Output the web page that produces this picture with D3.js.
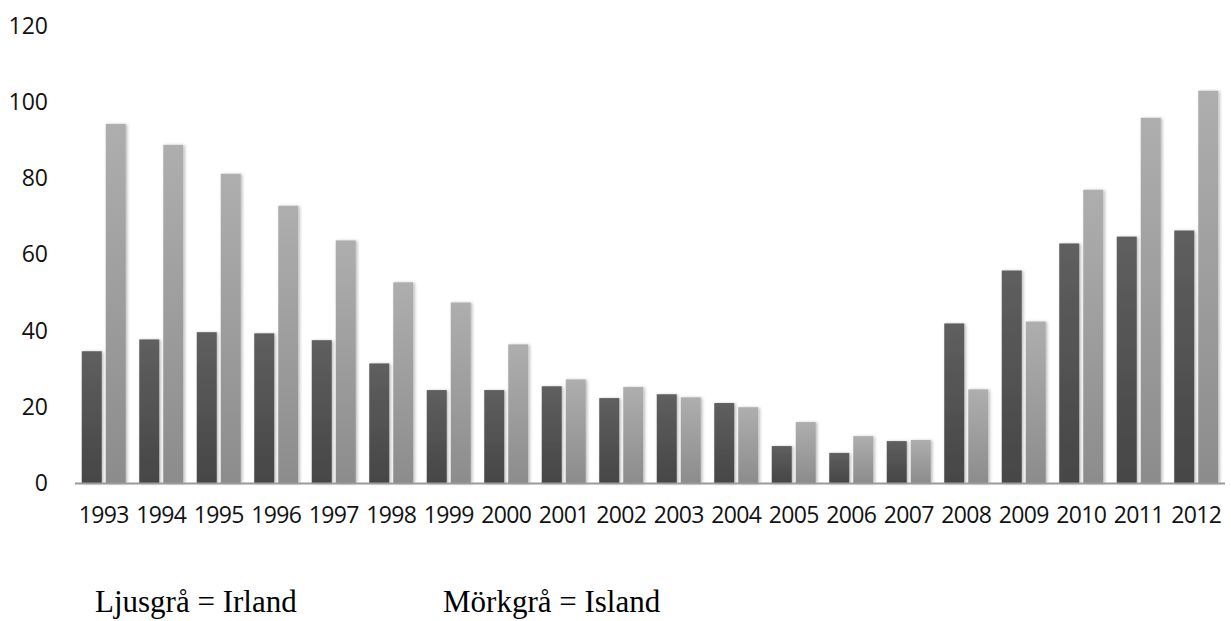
<!DOCTYPE html>
<html>
<head>
<meta charset="utf-8">
<script src="https://cdn.jsdelivr.net/npm/d3@7"></script>
<style>
  html, body { margin: 0; padding: 0; background: #fff; }
  svg { display: block; }
</style>
</head>
<body>
<svg id="chart" width="1231" height="621"></svg>
<script>
// Years on the category axis
const years = ["1993","1994","1995","1996","1997","1998","1999","2000","2001","2002",
               "2003","2004","2005","2006","2007","2008","2009","2010","2011","2012"];
// Series drawn left (dark) and right (light) in each year group
const seriesNames = ["Island", "Irland"];
const island = [34.6, 37.7, 39.6, 39.3, 37.5, 31.4, 24.4, 24.4, 25.4, 22.3,
                23.3, 21.0, 9.7, 7.9, 11.0, 41.9, 55.8, 62.9, 64.7, 66.3];
const irland = [94.3, 88.8, 81.2, 72.8, 63.7, 52.7, 47.4, 36.4, 27.2, 25.2,
                22.5, 19.9, 16.0, 12.3, 11.3, 24.6, 42.4, 77.0, 95.9, 103.0];
const yTicks = [0, 20, 40, 60, 80, 100, 120];
const legendLabels = ["Ljusgrå = Irland", "Mörkgrå = Island"];

const svg = d3.select("#chart");
const defs = svg.append("defs");

// Vertical shading for each bar colour
const grads = {
  Island: ["#5f5f5f", "#464646"],
  Irland: ["#aeaeae", "#8c8c8c"]
};
Object.entries(grads).forEach(([k, [top, bottom]]) => {
  const g = defs.append("linearGradient").attr("id", "g-" + k)
    .attr("x1", 0).attr("y1", 0).attr("x2", 0).attr("y2", 1);
  g.append("stop").attr("offset", "0%").attr("stop-color", top);
  g.append("stop").attr("offset", "100%").attr("stop-color", bottom);
});
const shadow = defs.append("filter").attr("id", "shadow")
  .attr("x", "-30%").attr("y", "-10%").attr("width", "160%").attr("height", "120%");
shadow.append("feDropShadow").attr("dx", 1.5).attr("dy", 0.5)
  .attr("stdDeviation", 1.6).attr("flood-color", "#000").attr("flood-opacity", 0.28);

const x0 = d3.scaleBand().domain(years).range([75, 1225])
  .paddingInner(13.5 / 57.5).paddingOuter(6.75 / 57.5);
const x1 = d3.scaleBand().domain(seriesNames).range([0, x0.bandwidth()])
  .paddingInner(4 / 24);
const y = d3.scaleLinear().domain([0, 120]).range([483, 26]);

const rows = years.map((yr, i) => ({ year: yr, values: { Island: island[i], Irland: irland[i] } }));

// Bars
const groups = svg.append("g").selectAll("g").data(rows).join("g")
  .attr("transform", d => `translate(${x0(d.year)},0)`);
groups.selectAll("rect")
  .data(d => seriesNames.map(s => ({ s, v: d.values[s] })))
  .join("rect")
  .attr("x", d => x1(d.s))
  .attr("width", x1.bandwidth())
  .attr("y", d => y(d.v))
  .attr("height", d => y(0) - y(d.v))
  .attr("fill", d => `url(#g-${d.s})`)
  .attr("filter", "url(#shadow)");

// Baseline
svg.append("line")
  .attr("x1", 75).attr("x2", 1225)
  .attr("y1", y(0) + 0.5).attr("y2", y(0) + 0.5)
  .attr("stroke", "#9a9a9a").attr("stroke-width", 2);

// Value axis
const yAxis = svg.append("g").attr("transform", "translate(48,0)")
  .call(d3.axisLeft(y).tickValues(yTicks).tickSize(0).tickPadding(0));
yAxis.select(".domain").remove();
yAxis.selectAll("text")
  .attr("font-family", "'Open Sans', sans-serif")
  .attr("font-size", 23).attr("fill", "#111");

// Category axis
const xAxis = svg.append("g").attr("transform", `translate(0,${y(0)})`)
  .call(d3.axisBottom(x0).tickSize(0).tickPadding(24));
xAxis.select(".domain").remove();
xAxis.selectAll("text")
  .attr("font-family", "'Open Sans', sans-serif")
  .attr("font-size", 23).attr("letter-spacing", -0.6).attr("fill", "#111");

// Legend text
svg.append("g").selectAll("text").data(legendLabels).join("text")
  .attr("x", (d, i) => [95, 443][i])
  .attr("y", 612)
  .attr("font-family", "'Liberation Serif', 'Times New Roman', serif")
  .attr("font-size", 31)
  .attr("fill", "#000")
  .text(d => d);
</script>
</body>
</html>
